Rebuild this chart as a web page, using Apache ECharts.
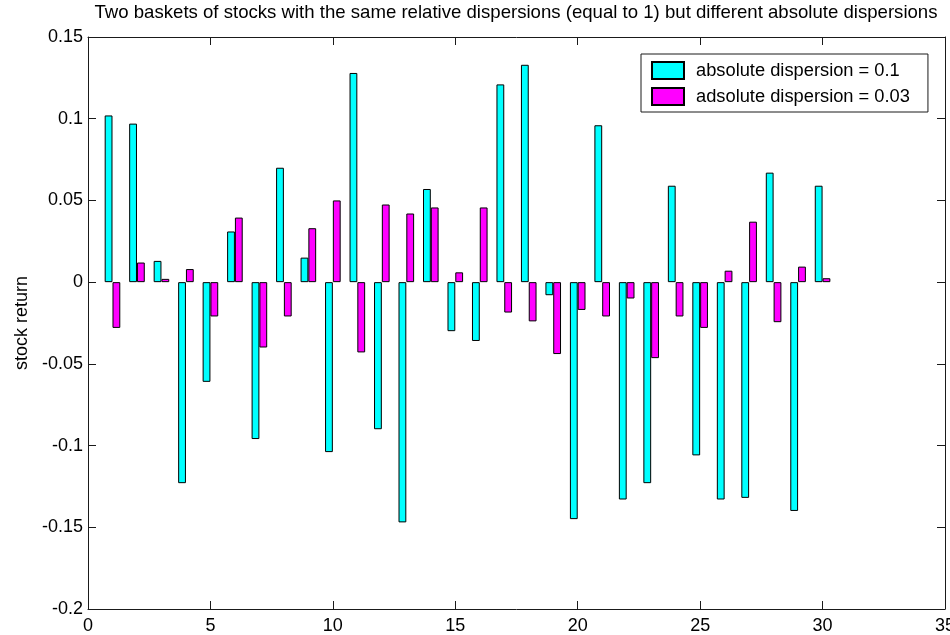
<!DOCTYPE html>
<html>
<head>
<meta charset="utf-8">
<script src="https://cdn.jsdelivr.net/npm/echarts@6/dist/echarts.min.js"></script>
<style>
  html, body { margin: 0; padding: 0; background: #fff; overflow: hidden; }
  #chart { width: 950px; height: 635px; }
</style>
</head>
<body>
<div id="chart"></div>
<script>
// Stock index on the x axis (1..30)
const stocks = [1,2,3,4,5,6,7,8,9,10,11,12,13,14,15,16,17,18,19,20,21,22,23,24,25,26,27,28,29,30];

// Returns of basket with absolute dispersion 0.1
const basketWide = [
  0.102, 0.097, 0.013, -0.123, -0.061, 0.031, -0.096, 0.070, 0.015, -0.104,
  0.128, -0.090, -0.147, 0.057, -0.030, -0.036, 0.121, 0.133, -0.008, -0.145,
  0.096, -0.133, -0.123, 0.059, -0.106, -0.133, -0.132, 0.067, -0.140, 0.059
];

// Returns of basket with absolute dispersion 0.03
const basketNarrow = [
  -0.028, 0.012, 0.002, 0.008, -0.021, 0.0395, -0.040, -0.021, 0.033, 0.050,
  -0.043, 0.0475, 0.042, 0.0457, 0.006, 0.0457, -0.0186, -0.024, -0.044, -0.017,
  -0.021, -0.010, -0.0465, -0.021, -0.028, 0.007, 0.037, -0.0245, 0.0095, 0.0024
];

const xMin = 0, xMax = 35, xStep = 5;
const yMin = -0.2, yMax = 0.15, yStep = 0.05;

const seriesNames = ['absolute dispersion = 0.1', 'adsolute dispersion = 0.03'];
const titleText = 'Two baskets of stocks with the same relative dispersions (equal to 1) but different absolute dispersions';
const yName = 'stock return';

const FONT = '"Liberation Sans", Arial, Helvetica, sans-serif';
const AXIS_COLOR = '#1a1a1a';

// Slots 0..35 for the bar positions; bars sit on integer stock indices
const slots = [];
for (let k = xMin; k <= xMax; k++) slots.push(k);

function slotValues(values) {
  return slots.map(k => {
    const i = stocks.indexOf(k);
    return i >= 0 ? values[i] : null;
  });
}

const chart = echarts.init(document.getElementById('chart'), null, { renderer: 'canvas' });

const tickInside = { show: true, inside: true, length: 8, lineStyle: { color: AXIS_COLOR, width: 1 } };
const axisLine = { show: true, onZero: false, lineStyle: { color: AXIS_COLOR, width: 1 } };

chart.setOption({
  animation: false,
  backgroundColor: '#ffffff',
  title: {
    text: titleText,
    left: 516, textAlign: 'center',
    top: 3, padding: 0,
    textStyle: { fontFamily: FONT, fontSize: 18.6, fontWeight: 'normal', color: '#000' }
  },
  legend: {
    orient: 'vertical',
    left: 641, top: 54,
    padding: [7, 18, 6, 10],
    itemGap: 7,
    itemWidth: 32, itemHeight: 17,
    backgroundColor: '#fff',
    borderColor: AXIS_COLOR, borderWidth: 1,
    icon: 'rect',
    selectedMode: false,
    textStyle: { fontFamily: FONT, fontSize: 18.3, color: '#000', lineHeight: 17, padding: [0, 0, 0, 7] },
    data: seriesNames
  },
  grid: { left: 88, right: 5, top: 37, bottom: 26, containLabel: false, outerBoundsMode: 'none' },
  xAxis: [
    {
      type: 'value', min: xMin, max: xMax, interval: xStep,
      axisLine: axisLine,
      axisTick: tickInside,
      splitLine: { show: false },
      axisLabel: { fontFamily: FONT, fontSize: 18, color: '#000', margin: 8 }
    },
    {
      type: 'value', position: 'top', min: xMin, max: xMax, interval: xStep,
      axisLine: axisLine,
      axisTick: tickInside,
      splitLine: { show: false },
      axisLabel: { show: false }
    },
    {
      // positions of the bars, aligned with the value axis above
      type: 'category', data: slots, boundaryGap: false,
      show: false
    }
  ],
  yAxis: [
    {
      type: 'value', min: yMin, max: yMax, interval: yStep,
      name: yName, nameLocation: 'middle', nameGap: 57,
      nameTextStyle: { fontFamily: FONT, fontSize: 18, color: '#000' },
      axisLine: axisLine,
      axisTick: tickInside,
      splitLine: { show: false },
      axisLabel: { fontFamily: FONT, fontSize: 18, color: '#000', margin: 5 }
    },
    {
      type: 'value', position: 'right', min: yMin, max: yMax, interval: yStep,
      axisLine: axisLine,
      axisTick: tickInside,
      splitLine: { show: false },
      axisLabel: { show: false }
    }
  ],
  series: [
    {
      name: seriesNames[0], type: 'bar', xAxisIndex: 2, yAxisIndex: 0,
      data: slotValues(basketWide),
      barWidth: 7.8, barGap: '0%',
      itemStyle: { color: '#00ffff', borderColor: '#000', borderWidth: 1 },
      emphasis: { disabled: true }
    },
    {
      name: seriesNames[1], type: 'bar', xAxisIndex: 2, yAxisIndex: 0,
      data: slotValues(basketNarrow),
      barWidth: 7.8, barGap: '0%',
      itemStyle: { color: '#ff00ff', borderColor: '#000', borderWidth: 1 },
      emphasis: { disabled: true }
    }
  ]
});
</script>
</body>
</html>
